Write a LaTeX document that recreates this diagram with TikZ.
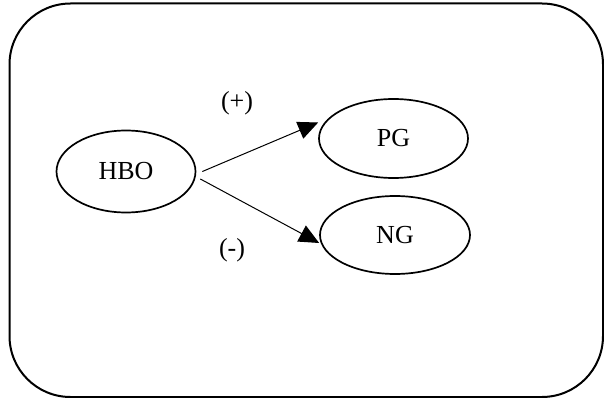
\documentclass[tikz,border=0pt]{standalone}
\usepackage{fontspec}
\setmainfont{Liberation Serif}
\usetikzlibrary{arrows.meta,shapes.geometric}
\begin{document}
\begin{tikzpicture}[x=1pt,y=-1pt,
  oval/.style={draw,ellipse,line width=1.7pt,inner sep=0pt,
    minimum width=149pt,minimum height=78pt,
    font=\fontsize{26}{30}\selectfont},
  link/.style={line width=1pt,-{Triangle[length=20pt,width=18pt]}},
  sign/.style={font=\fontsize{26}{30}\selectfont}]
  \useasboundingbox (0,0) rectangle (604,398);
  % outer frame
  \draw[line width=2pt,rounded corners=61pt] (9.5,3.5) rectangle (603,397);
  % variables
  \node[oval,minimum width=139pt,minimum height=82pt] (hbo) at (126,171.5) {HBO};
  \node[oval,minimum height=79pt] (pg) at (393.5,138.5) {PG};
  \node[oval,minimum width=150pt] (ng) at (395,235) {NG};
  % effects
  \draw[link] ([xshift=6pt]hbo.east) -- ([yshift=16pt]pg.west);
  \draw[link] ([shift={(4pt,-7.5pt)}]hbo.east) -- ([yshift=-8pt]ng.west);
  \node[sign] (plus) at (237,103) {(+)};
  \node[sign] (minus) at (232,250) {(-)};
\end{tikzpicture}
\end{document}
